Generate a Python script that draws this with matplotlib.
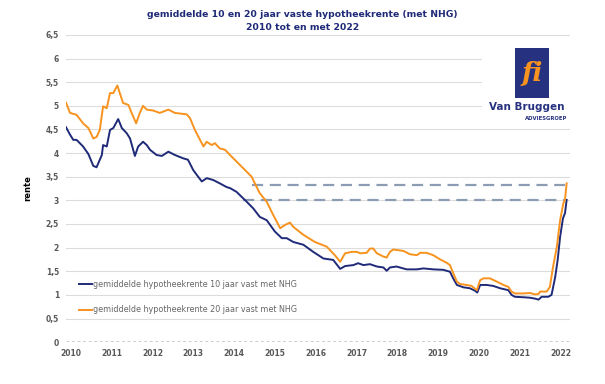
import matplotlib
matplotlib.use('Agg')
import matplotlib.pyplot as plt
from matplotlib.patches import Rectangle

# gemiddelde hypotheekrente 10 jaar vast met NHG (decimal year, rate)
years_10 = [2010.00, 2010.10, 2010.18, 2010.26, 2010.42, 2010.55, 2010.67, 2010.75, 2010.88, 2010.91,
            2011.00, 2011.08, 2011.16, 2011.28, 2011.37, 2011.49, 2011.57, 2011.69, 2011.77, 2011.89,
            2011.98, 2012.06, 2012.22, 2012.35, 2012.51, 2012.67, 2012.87, 2012.99, 2013.12, 2013.24,
            2013.33, 2013.45, 2013.61, 2013.77, 2013.94, 2014.02, 2014.18, 2014.43, 2014.59, 2014.75,
            2014.92, 2015.12, 2015.29, 2015.41, 2015.57, 2015.82, 2016.06, 2016.31, 2016.55, 2016.72,
            2016.84, 2017.04, 2017.16, 2017.29, 2017.45, 2017.62, 2017.78, 2017.86, 2017.94, 2018.10,
            2018.35, 2018.60, 2018.76, 2019.00, 2019.25, 2019.41, 2019.49, 2019.58, 2019.74, 2019.90,
            2020.02, 2020.08, 2020.15, 2020.31, 2020.47, 2020.64, 2020.84, 2020.92, 2021.00, 2021.21,
            2021.37, 2021.50, 2021.58, 2021.66, 2021.82, 2021.90, 2021.99, 2022.05, 2022.11, 2022.18,
            2022.23, 2022.27]
rate_10 = [4.55, 4.39, 4.28, 4.28, 4.14, 3.98, 3.73, 3.70, 3.96, 4.17,
           4.14, 4.49, 4.53, 4.72, 4.53, 4.42, 4.31, 3.94, 4.14, 4.24,
           4.17, 4.07, 3.96, 3.94, 4.03, 3.96, 3.89, 3.86, 3.64, 3.50,
           3.40, 3.47, 3.43, 3.36, 3.28, 3.26, 3.18, 2.97, 2.83, 2.65,
           2.58, 2.34, 2.20, 2.20, 2.12, 2.06, 1.91, 1.77, 1.74, 1.55,
           1.61, 1.63, 1.67, 1.63, 1.65, 1.60, 1.58, 1.51, 1.58, 1.60,
           1.54, 1.54, 1.56, 1.54, 1.53, 1.49, 1.35, 1.21, 1.16, 1.14,
           1.09, 1.05, 1.21, 1.21, 1.19, 1.14, 1.10, 1.00, 0.96, 0.95,
           0.94, 0.92, 0.90, 0.96, 0.96, 1.00, 1.38, 1.74, 2.23, 2.62,
           2.73, 3.01]

# gemiddelde hypotheekrente 20 jaar vast met NHG
years_20 = [2010.00, 2010.10, 2010.26, 2010.42, 2010.55, 2010.67, 2010.75, 2010.83, 2010.91, 2011.00,
            2011.08, 2011.16, 2011.26, 2011.32, 2011.40, 2011.53, 2011.61, 2011.72, 2011.81, 2011.89,
            2011.98, 2012.14, 2012.30, 2012.51, 2012.67, 2012.96, 2013.04, 2013.16, 2013.37, 2013.45,
            2013.57, 2013.65, 2013.77, 2013.90, 2014.02, 2014.39, 2014.55, 2014.75, 2014.92, 2015.08,
            2015.25, 2015.37, 2015.49, 2015.57, 2015.82, 2016.10, 2016.39, 2016.59, 2016.72, 2016.84,
            2017.00, 2017.13, 2017.21, 2017.37, 2017.45, 2017.53, 2017.62, 2017.78, 2017.86, 2017.94,
            2018.02, 2018.27, 2018.43, 2018.60, 2018.68, 2018.84, 2019.00, 2019.17, 2019.33, 2019.41,
            2019.49, 2019.58, 2019.66, 2019.82, 2019.94, 2020.07, 2020.15, 2020.23, 2020.39, 2020.56,
            2020.72, 2020.84, 2020.92, 2021.00, 2021.21, 2021.37, 2021.50, 2021.58, 2021.62, 2021.78,
            2021.86, 2021.93, 2022.03, 2022.11, 2022.19, 2022.23, 2022.27]
rate_20 = [5.07, 4.85, 4.81, 4.63, 4.53, 4.31, 4.34, 4.49, 4.99, 4.95,
           5.27, 5.27, 5.43, 5.27, 5.06, 5.02, 4.85, 4.63, 4.85, 5.00,
           4.92, 4.90, 4.85, 4.92, 4.85, 4.82, 4.74, 4.49, 4.14, 4.24,
           4.17, 4.21, 4.10, 4.07, 3.96, 3.64, 3.50, 3.15, 2.97, 2.69,
           2.41, 2.48, 2.53, 2.44, 2.27, 2.12, 2.02, 1.84, 1.70, 1.88,
           1.91, 1.91, 1.88, 1.89, 1.98, 1.98, 1.88, 1.81, 1.79, 1.91,
           1.96, 1.93, 1.86, 1.84, 1.89, 1.89, 1.84, 1.75, 1.68, 1.63,
           1.46, 1.28, 1.23, 1.21, 1.19, 1.10, 1.31, 1.35, 1.35, 1.28,
           1.21, 1.17, 1.07, 1.03, 1.03, 1.04, 1.01, 1.02, 1.07, 1.07,
           1.17, 1.56, 2.02, 2.58, 2.94, 3.02, 3.36]

# reference levels (start year, level)
ref_start = [2014.56, 2014.34]
ref_level = [3.33, 3.00]
ref_end = 2022.22

year_ticks = list(range(2010, 2023))
y_ticks = [0, 0.5, 1, 1.5, 2, 2.5, 3, 3.5, 4, 4.5, 5, 5.5, 6, 6.5]

navy = '#1f2a78'
orange = '#f7931e'

fig = plt.figure(figsize=(6.05, 3.84), dpi=100)
ax = fig.add_axes([0.109, 0.109, 0.833, 0.800])

for yt in y_ticks[1:]:
    ax.axhline(yt, color='#dcdcdc', linewidth=0.8, zorder=1)
ax.axhline(0, color='#c8c8c8', linewidth=2.0, linestyle=(0, (1, 1)), zorder=1)

for xs, lv in zip(ref_start, ref_level):
    ax.plot([xs, ref_end], [lv, lv], color='#8c9db3', linewidth=1.6,
            dashes=(5, 3), zorder=2)

ax.plot(years_10, rate_10, color=navy, linewidth=1.4, zorder=3,
        label='gemiddelde hypotheekrente 10 jaar vast met NHG')
ax.plot(years_20, rate_20, color=orange, linewidth=1.4, zorder=4,
        label='gemiddelde hypotheekrente 20 jaar vast met NHG')

ax.set_xlim(2010, 2022.35)
ax.set_ylim(0, 6.5)
ax.set_yticks(y_ticks)
ax.set_yticklabels([('%g' % v).replace('.', ',') for v in y_ticks])
ax.set_xticks([y + 0.12 for y in year_ticks])
ax.set_xticklabels([str(y) for y in year_ticks])
ax.tick_params(length=0, labelsize=5.5, colors='#595959', pad=5)
for lab in ax.get_xticklabels() + ax.get_yticklabels():
    lab.set_fontweight('bold')
for s in ax.spines.values():
    s.set_visible(False)

ax.set_ylabel('rente', fontsize=6, fontweight='bold', color='black', labelpad=10)

leg = ax.legend(loc='lower left', bbox_to_anchor=(0.02, 0.08), frameon=False,
                fontsize=5.8, handlelength=1.6, handletextpad=0.1,
                labelspacing=2.0, borderaxespad=0)
for t in leg.get_texts():
    t.set_color('#666666')

fig.text(0.5, 0.962, 'gemiddelde 10 en 20 jaar vaste hypotheekrente (met NHG)',
         ha='center', va='center', fontsize=6.7, fontweight='bold', color=navy)
fig.text(0.5, 0.928, '2010 tot en met 2022', ha='center', va='center',
         fontsize=6.7, fontweight='bold', color=navy)

# logo block
fig.patches.append(Rectangle((482 / 605, 1 - 126 / 384), 93 / 605, 80 / 384,
                             transform=fig.transFigure, facecolor='white',
                             edgecolor='none', zorder=5))
fig.patches.append(Rectangle((515 / 605, 1 - 98 / 384), 34 / 605, 50 / 384,
                             transform=fig.transFigure, facecolor='#26327f',
                             edgecolor='none', zorder=6))
fig.text(532 / 605, 1 - 73 / 384, 'fi', ha='center', va='center', fontsize=19,
         fontstyle='italic', fontweight='bold', color=orange,
         family='DejaVu Serif', zorder=7)
fig.text(527 / 605, 1 - 107 / 384, 'Van Bruggen', ha='center', va='center',
         fontsize=7.5, fontweight='bold', color='#26327f', zorder=7)
fig.text(567 / 605, 1 - 118 / 384, 'ADVIESGROEP', ha='right', va='center',
         fontsize=3.8, fontweight='bold', color='#26327f', zorder=7)

fig.savefig('out.png', dpi=100, facecolor='white')
